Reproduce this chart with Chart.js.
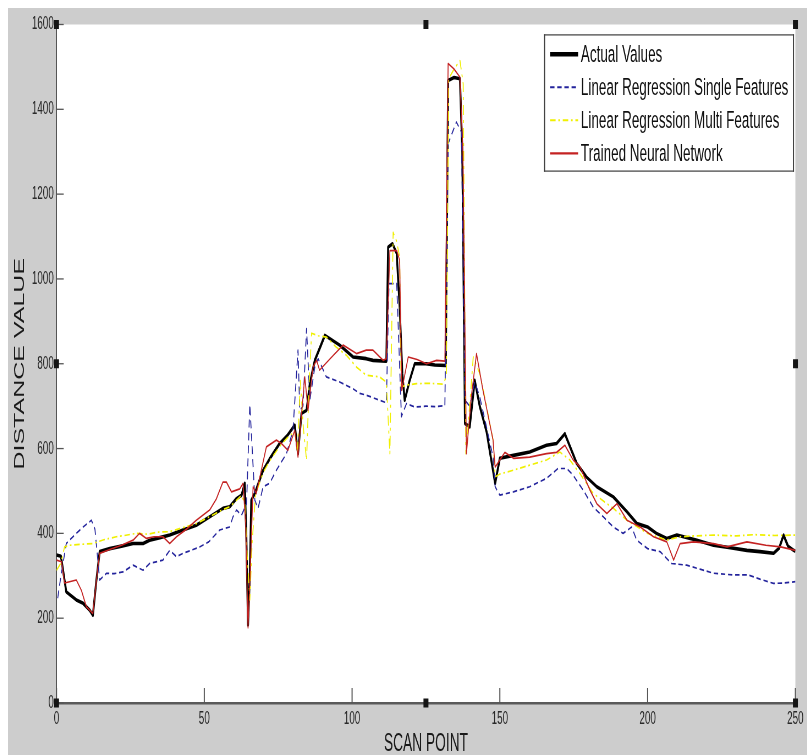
<!DOCTYPE html>
<html>
<head>
<meta charset="utf-8">
<script src="https://cdn.jsdelivr.net/npm/chart.js@4.4.1/dist/chart.umd.min.js"></script>
<style>
html,body{margin:0;padding:0;background:#ffffff;width:807px;height:755px;overflow:hidden}
#wrap{position:absolute;left:8px;top:8px;width:799px;height:747px;overflow:hidden;background:#cdcdcd}
#c{display:block;width:1453px;height:747px;transform:scaleX(0.55);transform-origin:0 0}
</style>
</head>
<body>
<div id="wrap"><canvas id="c" width="1453" height="747"></canvas></div>
<script>
// ---- data (scan point, distance value) ----
const xTickValues = [0, 50, 100, 150, 200, 250];
const yTickValues = [0, 200, 400, 600, 800, 1000, 1200, 1400, 1600];
const seriesLabels = ['Actual Values', 'Linear Regression Single Features', 'Linear Regression Multi Features', 'Trained Neural Network'];

const actualValues = [[0,349],[1.5,346],[2.7,290],[3.3,262],[6.7,243],[9,235],[11.2,219],[12.3,207],[13.5,290],[14.6,357],[18,364],[22,370],[25.9,376],[29.3,376],[31.5,384],[35,390],[38.3,396],[42.8,408],[47.3,419],[51.8,439],[56.3,459],[58.6,463],[60.9,482],[62.6,490],[63.7,518],[64.2,400],[64.8,184],[65.4,300],[65.9,478],[67.1,494],[69.9,549],[72.5,580],[75.5,612],[78,630],[80.6,655],[81.7,588],[82.9,683],[84.6,690],[85.7,753],[87.4,808],[90.8,867],[95.8,844],[100.3,816],[104.8,812],[107.1,808],[111.6,806],[112.2,1075],[113.7,1083],[115.1,1060],[116.1,934],[117,777],[117.8,714],[119.5,761],[121.2,800],[125,800],[128,797],[131.7,796],[132.5,1468],[134.5,1475],[136.5,1472],[137.3,1300],[138.2,659],[139.8,651],[141.5,761],[143.2,700],[145.5,640],[148.4,518],[150,577],[154.6,584],[160.1,592],[165.8,608],[169.2,612],[172,635],[176,565],[179.3,533],[182.8,510],[188.4,486],[193,451],[196.4,423],[200,415],[203,400],[206.5,388],[209.9,396],[216.7,384],[222.3,372],[228,366],[233.6,360],[238,357],[242.6,353],[244.5,365],[246,396],[247.5,370],[249.4,360],[250,358]];

const linRegSingle = [[0.4,247],[1.5,300],[3.3,376],[6.7,400],[9,415],[11.8,431],[13,410],[14.6,290],[16.9,306],[19.5,305],[22.5,309],[25.9,325],[29.3,313],[31.5,329],[36,337],[38.3,360],[40.6,345],[42.8,353],[45.5,360],[48.4,368],[51.5,380],[55.2,408],[58.6,415],[59.7,439],[60.9,455],[62.6,443],[64.3,470],[65.4,704],[66.2,600],[67.1,478],[68.2,459],[69.9,510],[72.1,518],[74.4,549],[77.8,588],[80,643],[81.7,832],[82.3,690],[83.4,700],[84.6,883],[85.7,714],[87.4,792],[88.5,812],[91.3,769],[95.8,757],[100.3,741],[102.6,730],[104.8,726],[109.3,714],[111.6,708],[112.5,989],[115.1,989],[116.7,675],[118.4,706],[121.2,698],[125,700],[128,699],[131.4,701],[132.5,1319],[135.3,1370],[137,1346],[138.2,714],[139.8,700],[141.5,757],[143.2,722],[145.5,650],[147.7,580],[148.4,510],[150,490],[154.6,498],[160.1,510],[165.8,530],[169.7,553],[172.6,553],[174.8,537],[178.2,502],[181.6,462],[185,439],[188.4,415],[191.7,400],[194.6,415],[196.3,384],[200,364],[204.2,357],[208.1,329],[213.2,325],[218,315],[222.3,306],[229,302],[234,302],[238,292],[242.6,282],[246,283],[250,286]];

const linRegMulti = [[0,313],[1.5,330],[2.7,368],[4.4,372],[8,374],[12.3,376],[16,385],[20.2,392],[23,395],[27,400],[31,398],[34,403],[38.3,404],[42,412],[47.3,423],[52,440],[56,455],[58.6,463],[60.9,478],[62.6,490],[63.7,470],[64.5,350],[65.4,243],[66.2,380],[67.3,490],[70,545],[72.5,575],[75.5,605],[78,625],[80.6,640],[81.5,590],[82.5,760],[83.5,650],[84.6,572],[85.5,760],[86.3,872],[88.5,866],[91.3,863],[94.5,840],[98.1,820],[101.5,792],[104.8,773],[109.3,769],[111.6,757],[112.8,588],[113.9,1110],[115,1090],[116.1,1052],[116.6,745],[118.5,750],[121.8,753],[126,754],[130.8,752],[131.9,769],[132.7,1472],[134.5,1495],[136.5,1515],[137.6,1460],[138.5,588],[140,720],[141,816],[143.2,777],[145.5,700],[147.7,620],[148.4,533],[150,540],[154.6,549],[160.1,561],[165.8,573],[170.3,592],[173.7,573],[177.1,541],[181.6,494],[188.4,459],[193,431],[200,400],[206.5,384],[210.9,392],[216,394],[222.3,396],[230,394],[236,397],[243,395],[250,396]];

const trainedNN = [[0,337],[1.7,333],[2.7,283],[4.4,286],[6.7,290],[8.4,266],[10.1,227],[12.3,211],[14,321],[14.6,353],[18,362],[22,372],[25.9,384],[28.1,400],[30.4,388],[33,392],[36,392],[38.3,376],[40.6,392],[44,410],[47.3,431],[51.8,455],[54,480],[56.3,521],[57.5,521],[59.2,498],[62,505],[63.1,518],[64,420],[64.8,177],[65.6,320],[66.5,510],[67.6,494],[71,604],[74.4,620],[76.1,612],[78.3,596],[80.6,643],[81.7,580],[83,690],[84,769],[85.1,690],[86.8,792],[88,808],[89,785],[93,815],[97,844],[101.5,824],[104.8,832],[107.1,832],[110.5,808],[111.6,812],[112.8,1067],[115.1,1067],[116.1,1044],[116.8,737],[119,816],[122,810],[125.2,800],[128.6,808],[131.4,806],[132.5,1508],[134.5,1495],[136.5,1476],[137.5,1300],[138.7,588],[140.3,720],[142.1,824],[144.3,737],[147.7,620],[148.4,556],[150,573],[151.7,591],[154.6,577],[160.1,580],[165.8,588],[169.2,591],[172,608],[174.8,573],[177.1,557],[180.5,502],[182.8,470],[186.2,447],[189.6,470],[193,431],[197.5,415],[202,392],[206.5,380],[208.8,337],[211,376],[215.5,380],[222.3,376],[226.9,368],[233.6,380],[240,372],[245,368],[250,360]];

// ---- rendering ----
const FONT = "'Liberation Sans', Arial, Helvetica, sans-serif";
Chart.defaults.font.family = FONT;
const toXY = arr => arr.map(p => ({x: p[0], y: p[1]}));

const bgPlugin = {
  id: 'figureBg',
  beforeDraw(chart) {
    const {ctx, width, height, chartArea: a} = chart;
    ctx.save();
    ctx.fillStyle = '#cdcdcd';
    ctx.fillRect(0, 0, width, height);
    ctx.fillStyle = '#ffffff';
    ctx.fillRect(a.left, a.top, a.right - a.left, a.bottom - a.top);
    ctx.restore();
  }
};

const inwardTicks = {
  id: 'inwardTicks',
  afterDatasetsDraw(chart) {
    const {ctx, chartArea: a, scales: {x, y}} = chart;
    ctx.save();
    ctx.strokeStyle = '#555555';
    ctx.lineWidth = 1.3;
    y.ticks.forEach(t => {
      const py = y.getPixelForValue(t.value);
      ctx.beginPath(); ctx.moveTo(a.left, py); ctx.lineTo(a.left + 13, py); ctx.stroke();
    });
    ctx.lineWidth = 2;
    x.ticks.forEach(t => {
      const px = x.getPixelForValue(t.value);
      ctx.beginPath(); ctx.moveTo(px, a.bottom); ctx.lineTo(px, a.bottom - 15); ctx.stroke();
    });
    ctx.restore();
  }
};

const boxLegend = {
  id: 'boxLegend',
  afterDraw(chart) {
    const {ctx, chartArea: a} = chart;
    const R = a.right - 2.5, L = R - 454.5, T = a.top + 9.8, B = T + 137.4;
    ctx.save();
    ctx.fillStyle = '#ffffff';
    ctx.fillRect(L, T, R - L, B - T);
    ctx.fillStyle = '#3c3c3c';
    ctx.fillRect(L, T, R - L, 1.2);
    ctx.fillRect(L, B - 1.2, R - L, 1.2);
    ctx.fillRect(L, T, 2, B - T);
    ctx.fillRect(R - 2, T, 2, B - T);
    chart.data.datasets.forEach((ds, i) => {
      const cy = T + 20 + i * 33;
      ctx.strokeStyle = ds.borderColor;
      ctx.lineWidth = ds.legendWidth;
      ctx.setLineDash(ds.borderDash || []);
      ctx.beginPath(); ctx.moveTo(L + 11, cy); ctx.lineTo(L + 62, cy); ctx.stroke();
      ctx.setLineDash([]);
      ctx.fillStyle = '#111111';
      ctx.font = '24.5px ' + FONT;
      ctx.textBaseline = 'middle';
      ctx.textAlign = 'left';
      ctx.fillText(ds.label, L + 67, cy + 1);
    });
    ctx.restore();
  }
};

const selectionHandles = {
  id: 'selectionHandles',
  afterDraw(chart) {
    const {ctx, chartArea: a} = chart;
    const xs = [a.left, (a.left + a.right) / 2, a.right];
    const ys = [a.top, (a.top + a.bottom) / 2, a.bottom];
    ctx.save();
    ctx.fillStyle = '#151515';
    xs.forEach((hx, i) => ys.forEach((hy, j) => {
      if (i === 1 && j === 1) return;
      ctx.fillRect(hx - 4.5, hy - 4.5, 9, 9);
    }));
    ctx.restore();
  }
};

new Chart(document.getElementById('c'), {
  type: 'line',
  data: {
    datasets: [
      {label: seriesLabels[0], data: toXY(actualValues), borderColor: '#000000', borderWidth: 3.6, legendWidth: 4.5, order: 3},
      {label: seriesLabels[1], data: toXY(linRegSingle), borderColor: '#23239c', borderWidth: 1.7, borderDash: [8, 5], legendWidth: 2, order: 2},
      {label: seriesLabels[2], data: toXY(linRegMulti), borderColor: '#f0f000', borderWidth: 1.7, borderDash: [10, 5, 3, 5], legendWidth: 2, order: 1},
      {label: seriesLabels[3], data: toXY(trainedNN), borderColor: '#c42222', borderWidth: 1.7, legendWidth: 2.2, order: 0}
    ]
  },
  options: {
    responsive: false,
    animation: false,
    devicePixelRatio: 1,
    layout: {padding: {left: 0, top: 16.5, right: 21.4, bottom: 0}},
    elements: {point: {radius: 0}, line: {tension: 0, borderJoinStyle: 'round'}},
    plugins: {legend: {display: false}, tooltip: {enabled: false}},
    scales: {
      x: {
        type: 'linear', min: 0, max: 250,
        afterBuildTicks: s => { s.ticks = xTickValues.map(v => ({value: v})); },
        afterFit: s => { s.height = 52; s.paddingLeft = 0; s.paddingRight = 0; },
        ticks: {autoSkip: false, maxRotation: 0, padding: 5, color: '#2a2a2a', font: {size: 18}, callback: v => String(v)},
        grid: {drawOnChartArea: false, drawTicks: false},
        border: {display: true, color: '#5a5a5a', width: 2.5},
        title: {display: true, text: 'SCAN POINT', color: '#1a1a1a', font: {size: 25, lineHeight: 0.8}, padding: {top: 0, bottom: 1}}
      },
      y: {
        type: 'linear', min: 0, max: 1600,
        afterBuildTicks: s => { s.ticks = yTickValues.map(v => ({value: v})); },
        afterFit: s => { s.width = 88.2; s.paddingTop = 0; s.paddingBottom = 0; },
        ticks: {padding: 5, color: '#2a2a2a', font: {size: 18}, callback: v => String(v)},
        grid: {drawOnChartArea: false, drawTicks: false},
        border: {display: true, color: '#555555', width: 2},
        title: {display: true, text: 'DISTANCE VALUE', color: '#1a1a1a', font: {size: 25, lineHeight: 1.2}, padding: {top: 7, bottom: 0}}
      }
    }
  },
  plugins: [bgPlugin, inwardTicks, boxLegend, selectionHandles]
});
</script>
</body>
</html>
